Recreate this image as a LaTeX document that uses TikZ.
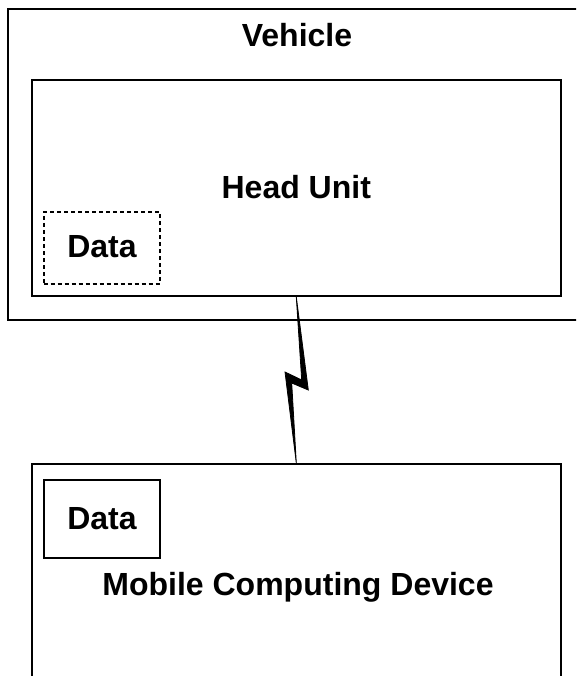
\documentclass[tikz,border=0pt]{standalone}
\usepackage{fontspec}
\setmainfont{Liberation Sans}
\begin{document}
\begin{tikzpicture}[x=1pt,y=-1pt,
  box/.style={draw=black,line width=2pt,fill=none,inner sep=0pt},
  dbox/.style={draw=black,line width=2pt,dash pattern=on 4pt off 3pt,inner sep=0pt},
  lbl/.style={anchor=base,inner sep=0pt,font=\fontsize{32}{38}\selectfont\bfseries}]
\clip (0,0) rectangle (576,676);
\fill[white] (0,0) rectangle (576,676);
% boxes
\draw[box] (8.3,9) rectangle (584.3,320);
\node[box,minimum width=528.4pt,minimum height=216pt] (hu) at (296.3,188) {};
\node[dbox,minimum width=116pt,minimum height=72pt] (d1) at (101.5,248) {};
\node[box,minimum width=528.4pt,minimum height=300pt] (mob) at (296.3,614) {};
\node[box,minimum width=116pt,minimum height=78pt] (d2) at (101.5,518.5) {};
% labels
\node[lbl] (veh) at (297,47) {Vehicle};
\node[lbl] (hul) at (296.3,199) {Head Unit};
\node[lbl] (d1l) at (102,257) {Data};
\node[lbl] (d2l) at (102,529) {Data};
\node[lbl] (mobl) at (298,595) {Mobile Computing Device};
% lightning connector
\fill[black,draw=black,line width=0.8pt,line join=miter]
  (hu.south) -- (301.7,380) -- (285,372) -- (mob.north) -- (291.7,383) -- (308.3,390) -- cycle;
\end{tikzpicture}
\end{document}
